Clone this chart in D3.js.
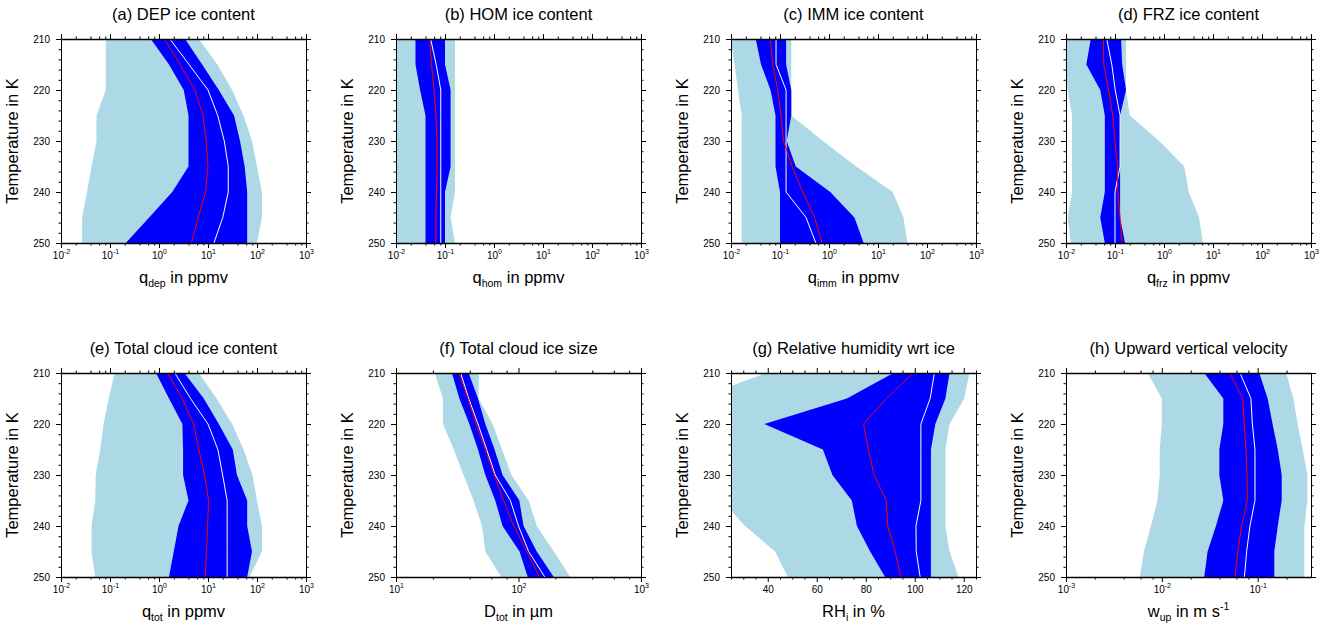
<!DOCTYPE html>
<html>
<head>
<meta charset="utf-8">
<script src="https://cdn.jsdelivr.net/npm/d3@7"></script>
<style>
  body { margin: 0; background: #fff; }
  svg { display: block; font-family: "Liberation Sans", Arial, Helvetica, sans-serif; }
  .tick line, .domain { stroke: #000; }
</style>
</head>
<body>
<svg width="1326" height="632"></svg>
<script>
// temperature levels (K)
const temps = [210, 215, 220, 225, 230, 235, 240, 245, 250];

// (a) deposition ice content, ppmv
const depMin = [0.082, 0.082, 0.082, 0.053, 0.053, 0.042, 0.034, 0.027, 0.027];
const depMax = [6.5, 15.5, 31, 53, 79, 100, 126, 126, 100];
const depP25 = [0.68, 1.6, 3.2, 4.0, 4.0, 4.0, 1.86, 0.63, 0.21];
const depP75 = [3.4, 7.6, 16.6, 34, 45, 56, 63, 63, 63];
const depMedian = [1.3, 2.7, 5.4, 7.9, 9.2, 10, 8.9, 6.3, 4.6];
const depMean = [1.67, 4.1, 10, 15.8, 21.5, 25.9, 25.9, 20, 13.2];

// (b) homogeneous ice content
const homMin = [0.008, 0.008, 0.008, 0.008, 0.008, 0.008, 0.008, 0.008, 0.008];
const homMax = [0.16, 0.16, 0.16, 0.16, 0.16, 0.16, 0.16, 0.13, 0.16];
const homP25 = [0.025, 0.025, 0.031, 0.04, 0.04, 0.04, 0.04, 0.04, 0.04];
const homP75 = [0.1, 0.1, 0.13, 0.13, 0.13, 0.13, 0.1, 0.1, 0.1];
const homMedian = [0.049, 0.053, 0.06, 0.065, 0.069, 0.069, 0.067, 0.065, 0.065];
const homMean = [0.051, 0.066, 0.082, 0.082, 0.082, 0.082, 0.082, 0.082, 0.082];

// (c) immersion ice content
const immMin = [0.0098, 0.0118, 0.0139, 0.0165, 0.0165, 0.0165, 0.0165, 0.0165, 0.0165];
const immMax = [0.17, 0.17, 0.17, 0.17, 0.75, 3.6, 20, 33, 40];
const immP25 = [0.032, 0.041, 0.064, 0.081, 0.081, 0.081, 0.1, 0.1, 0.1];
const immP75 = [0.133, 0.133, 0.17, 0.17, 0.137, 0.21, 1.06, 3.3, 5.1];
const immMedian = [0.063, 0.071, 0.09, 0.105, 0.118, 0.177, 0.29, 0.51, 0.72];
const immMean = [0.083, 0.083, 0.133, 0.133, 0.133, 0.133, 0.133, 0.34, 0.54];

// (d) freezing ice content
const frzMin = [0.0098, 0.0098, 0.0108, 0.0133, 0.0133, 0.0133, 0.0133, 0.0108, 0.0126];
const frzMax = [0.168, 0.168, 0.168, 0.2, 0.8, 2.6, 3.2, 5.2, 6.2];
const frzP25 = [0.032, 0.026, 0.05, 0.062, 0.062, 0.062, 0.062, 0.05, 0.062];
const frzP75 = [0.133, 0.14, 0.168, 0.127, 0.127, 0.127, 0.127, 0.127, 0.16];
const frzMedian = [0.058, 0.059, 0.074, 0.09, 0.1, 0.113, 0.113, 0.127, 0.139];
const frzMean = [0.068, 0.086, 0.101, 0.127, 0.127, 0.127, 0.1, 0.1, 0.1];

// (e) total cloud ice content
const totMin = [0.124, 0.094, 0.074, 0.063, 0.051, 0.05, 0.042, 0.042, 0.05];
const totMax = [6.5, 15, 31, 53, 81, 100, 126, 126, 70];
const totP25 = [0.87, 1.6, 3.0, 3.1, 3.1, 4.0, 2.5, 2.0, 1.6];
const totP75 = [3.3, 8.2, 16.6, 32, 39, 63, 63, 79, 63];
const totMedian = [1.5, 2.95, 5.1, 6.5, 8.5, 10.3, 9.8, 9.3, 8.8];
const totMean = [2.1, 4.4, 10, 15.9, 19.9, 24.6, 24.6, 24.6, 24.6];

// (f) total cloud ice size, um
const sizeMin = [20.7, 24.2, 24.2, 29.6, 35.6, 43, 50.4, 53.6, 72.5];
const sizeMax = [47.3, 47.3, 61.5, 73.3, 87.5, 121, 141, 194, 264];
const sizeP25 = [28.6, 32.9, 39.7, 46.7, 53.6, 64.6, 74.1, 102, 119];
const sizeP75 = [39.2, 46.7, 53.6, 63.8, 74.1, 101.6, 110, 141, 194];
const sizeMedian = [32.5, 38.7, 45, 53.6, 63.3, 75.6, 91.3, 117, 148];
const sizeMean = [33.7, 39.2, 46.7, 55, 64.6, 85.8, 100, 121, 164];

// (g) relative humidity wrt ice, %
const rhiMin = [39.3, 11, 8, 8, 10, 21.4, 30.7, 43, 48.2];
const rhiMax = [122.3, 120.2, 114.2, 112.5, 112.5, 112.5, 112.5, 114.2, 117.9];
const rhiP25 = [91.3, 72.3, 38.6, 62.5, 66.4, 74.3, 76.4, 81.8, 87.9];
const rhiP75 = [114.2, 112.5, 108.4, 106.6, 106.6, 106.6, 106.6, 106.6, 106.6];
const rhiMedian = [99.3, 88.4, 79.1, 81.1, 83.4, 88.4, 89, 92, 94.3];
const rhiMean = [108, 106.3, 102.5, 102.5, 102.5, 102.5, 100.5, 100.6, 102.2];

// (h) upward vertical velocity, m/s
const wupMin = [0.0071, 0.01, 0.01, 0.0095, 0.0095, 0.009, 0.0077, 0.0065, 0.0059];
const wupMax = [0.198, 0.236, 0.261, 0.295, 0.33, 0.33, 0.307, 0.307, 0.307];
const wupP25 = [0.0277, 0.0438, 0.0438, 0.0398, 0.0398, 0.0438, 0.0367, 0.03, 0.0277];
const wupP75 = [0.104, 0.127, 0.143, 0.162, 0.178, 0.178, 0.162, 0.149, 0.149];
const wupMedian = [0.0514, 0.0697, 0.0726, 0.0756, 0.0774, 0.078, 0.068, 0.0618, 0.058];
const wupMean = [0.0655, 0.085, 0.088, 0.0937, 0.0937, 0.0937, 0.083, 0.0767, 0.0727];

// axis ticks
const tempTicks = [210, 220, 230, 240, 250];
const rhiTicks = [40, 60, 80, 100, 120];

const panels = [
  { title: "(a) DEP ice content", sym: "q", sub: "dep", unit: " in ppmv", log: true, domain: [1e-2, 1e3],
    min: depMin, max: depMax, p25: depP25, p75: depP75, median: depMedian, mean: depMean },
  { title: "(b) HOM ice content", sym: "q", sub: "hom", unit: " in ppmv", log: true, domain: [1e-2, 1e3],
    min: homMin, max: homMax, p25: homP25, p75: homP75, median: homMedian, mean: homMean },
  { title: "(c) IMM ice content", sym: "q", sub: "imm", unit: " in ppmv", log: true, domain: [1e-2, 1e3],
    min: immMin, max: immMax, p25: immP25, p75: immP75, median: immMedian, mean: immMean },
  { title: "(d) FRZ ice content", sym: "q", sub: "frz", unit: " in ppmv", log: true, domain: [1e-2, 1e3],
    min: frzMin, max: frzMax, p25: frzP25, p75: frzP75, median: frzMedian, mean: frzMean },
  { title: "(e) Total cloud ice content", sym: "q", sub: "tot", unit: " in ppmv", log: true, domain: [1e-2, 1e3],
    min: totMin, max: totMax, p25: totP25, p75: totP75, median: totMedian, mean: totMean },
  { title: "(f) Total cloud ice size", sym: "D", sub: "tot", unit: " in \u00b5m", log: true, domain: [10, 1000],
    min: sizeMin, max: sizeMax, p25: sizeP25, p75: sizeP75, median: sizeMedian, mean: sizeMean },
  { title: "(g) Relative humidity wrt ice", sym: "RH", sub: "i", unit: " in %", log: false, domain: [25, 125],
    min: rhiMin, max: rhiMax, p25: rhiP25, p75: rhiP75, median: rhiMedian, mean: rhiMean },
  { title: "(h) Upward vertical velocity", sym: "w", sub: "up", unit: " in m s", sup: "-1", log: true, domain: [1e-3, 0.36],
    min: wupMin, max: wupMax, p25: wupP25, p75: wupP75, median: wupMedian, mean: wupMean },
];

const svg = d3.select("svg");

// panel layout
const colX = [61, 396, 731, 1066];
const rowY = [39, 373];
const innerWidth = 245;
const innerHeight = 204;

// major decades and 2,4,6,8 minor ticks for a log domain
const logTicks = (domain) => {
  const lo = Math.floor(Math.log10(domain[0]));
  const hi = Math.ceil(Math.log10(domain[1]));
  const major = [];
  const minor = [];
  for (let e = lo; e <= hi; e++) {
    const base = Math.pow(10, e);
    if (base >= domain[0] && base <= domain[1] * 1.0001) major.push(base);
    [2, 4, 6, 8].forEach((m) => {
      const v = m * base;
      if (v > domain[0] && v < domain[1]) minor.push(v);
    });
  }
  return { major, minor };
};

// tick marks only; labels are written separately below
const ticks = (axis, keepDomain) => (sel) => {
  sel.call(axis.tickFormat("").tickSizeOuter(0));
  sel.attr("font-family", null).attr("font-size", null);
  sel.selectAll("text").remove();
  if (!keepDomain) sel.select(".domain").remove();
};

const render = (p, idx) => {
  const g = svg
    .append("g")
    .attr("transform", `translate(${colX[idx % 4]},${rowY[Math.floor(idx / 4)]})`);

  const xScale = (p.log ? d3.scaleLog() : d3.scaleLinear())
    .domain(p.domain)
    .range([0, innerWidth]);
  const yScale = d3.scaleLinear().domain([210, 250]).range([0, innerHeight]);

  // clip the bands to the plot frame
  const clipId = `clip${idx}`;
  g.append("clipPath")
    .attr("id", clipId)
    .append("rect")
    .attr("width", innerWidth)
    .attr("height", innerHeight);

  const plot = g.append("g").attr("clip-path", `url(#${clipId})`);

  const band = (lo, hi) =>
    d3.area()
      .y((d) => yScale(d))
      .x0((d, i) => xScale(lo[i]))
      .x1((d, i) => xScale(hi[i]));

  const line = (vals) =>
    d3.line()
      .y((d) => yScale(d))
      .x((d, i) => xScale(vals[i]));

  plot.append("path").datum(temps).attr("fill", "#add8e6").attr("d", band(p.min, p.max));
  plot.append("path").datum(temps).attr("fill", "#0000ff").attr("d", band(p.p25, p.p75));
  plot.append("path").datum(temps).attr("fill", "none").attr("stroke", "#fff")
    .attr("stroke-width", 1).attr("d", line(p.mean));
  plot.append("path").datum(temps).attr("fill", "none").attr("stroke", "#ff0000")
    .attr("stroke-width", 1).attr("d", line(p.median));

  // tick values
  let xMajor, xMinor;
  if (p.log) {
    const t = logTicks(p.domain);
    xMajor = t.major;
    xMinor = t.minor;
  } else {
    xMajor = rhiTicks;
    xMinor = d3.range(p.domain[0], p.domain[1] + 1, 5).filter((v) => !rhiTicks.includes(v));
  }
  const yMinor = d3.range(210, 251, 2).filter((v) => v % 10 !== 0);

  // frame with outward major and minor ticks on all four sides
  g.append("g").call(ticks(d3.axisLeft(yScale).tickValues(tempTicks).tickSize(5), true));
  g.append("g").call(ticks(d3.axisLeft(yScale).tickValues(yMinor).tickSize(2.5)));

  const right = g.append("g").attr("transform", `translate(${innerWidth},0)`);
  right.append("g").call(ticks(d3.axisRight(yScale).tickValues(tempTicks).tickSize(5), true));
  right.append("g").call(ticks(d3.axisRight(yScale).tickValues(yMinor).tickSize(2.5)));

  const bottom = g.append("g").attr("transform", `translate(0,${innerHeight})`);
  const bAxis = bottom.append("g")
    .call(ticks(d3.axisBottom(xScale).tickValues(xMajor).tickSize(5), true));
  bottom.append("g").call(ticks(d3.axisBottom(xScale).tickValues(xMinor).tickSize(2.5)));

  const top = g.append("g");
  const tAxis = top.append("g")
    .call(ticks(d3.axisTop(xScale).tickValues(xMajor).tickSize(5), true));
  top.append("g").call(ticks(d3.axisTop(xScale).tickValues(xMinor).tickSize(2.5)));

  // top and bottom frame lines look a bit heavier in the original
  tAxis.select(".domain").attr("stroke", "#555").attr("stroke-width", 1.6);
  bAxis.select(".domain").attr("stroke", "#555").attr("stroke-width", 1.6);

  // y tick labels
  g.selectAll("text.ylab")
    .data(tempTicks)
    .enter()
    .append("text")
    .attr("class", "ylab")
    .attr("x", -11)
    .attr("y", (d) => yScale(d) + 4)
    .attr("text-anchor", "end")
    .attr("font-size", 10)
    .text((d) => d);

  // x tick labels, powers of ten on log axes
  const xLabels = g.selectAll("text.xlab")
    .data(xMajor)
    .enter()
    .append("text")
    .attr("class", "xlab")
    .attr("x", (d) => xScale(d) + 0.5)
    .attr("y", innerHeight + 16)
    .attr("text-anchor", "middle")
    .attr("font-size", 10);
  if (p.log) {
    xLabels.append("tspan").text("10");
    xLabels.append("tspan")
      .attr("dy", -5)
      .attr("font-size", 7)
      .text((d) => Math.round(Math.log10(d)));
  } else {
    xLabels.text((d) => d);
  }

  // panel title
  g.append("text")
    .attr("x", innerWidth / 2)
    .attr("y", -19)
    .attr("text-anchor", "middle")
    .attr("font-size", 16.5)
    .text(p.title);

  // y axis label
  g.append("text")
    .attr("transform", `translate(-43,${innerHeight / 2}) rotate(-90)`)
    .attr("text-anchor", "middle")
    .attr("font-size", 16.5)
    .text("Temperature in K");

  // x axis label with subscript (and superscript for units)
  const xt = g.append("text")
    .attr("x", innerWidth / 2)
    .attr("y", innerHeight + 40)
    .attr("text-anchor", "middle")
    .attr("font-size", 16.5);
  xt.append("tspan").text(p.sym);
  xt.append("tspan").attr("font-size", 10.5).attr("dy", 4).text(p.sub);
  xt.append("tspan").attr("dy", -4).text(p.unit);
  if (p.sup) xt.append("tspan").attr("font-size", 10.5).attr("dy", -7).text(p.sup);
};

panels.forEach(render);
</script>
</body>
</html>
